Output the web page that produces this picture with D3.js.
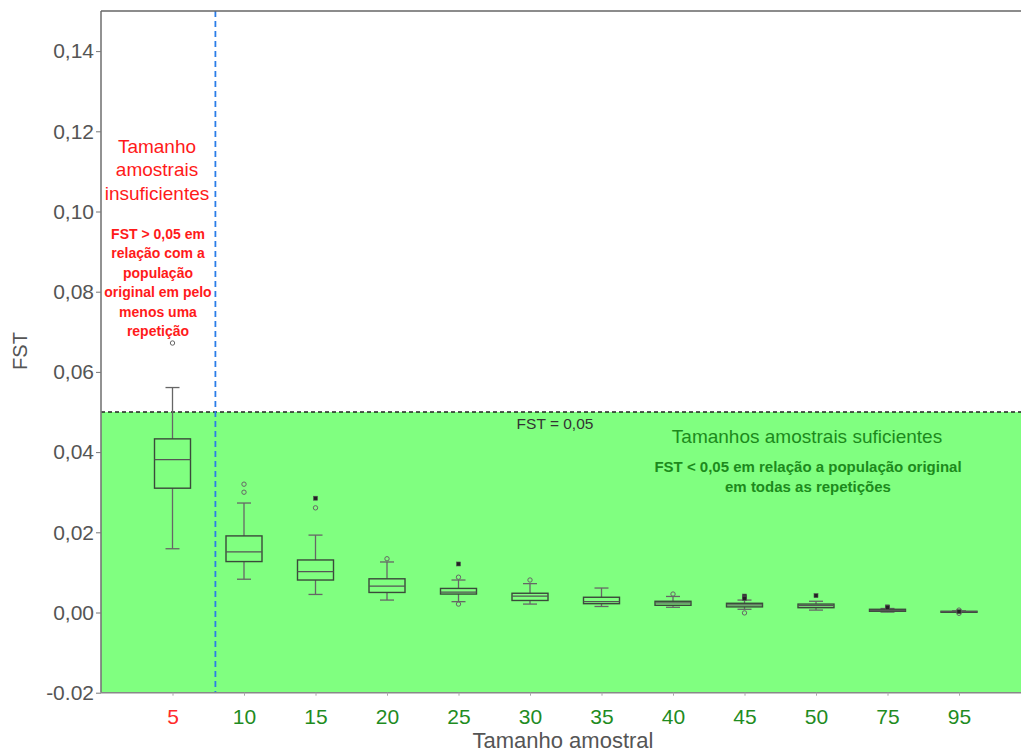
<!DOCTYPE html>
<html>
<head>
<meta charset="utf-8">
<script src="https://cdn.jsdelivr.net/npm/d3@7"></script>
<style>
  html, body { margin: 0; padding: 0; background: #fff; }
  svg { display: block; font-family: "Liberation Sans", Arial, sans-serif; }
</style>
</head>
<body>
<svg id="chart" width="1022" height="753"></svg>
<script>
// Sample sizes (x categories) and FST box-plot summaries for each one
const sizes = ["5", "10", "15", "20", "25", "30", "35", "40", "45", "50", "75", "95"];
const whiskerLow  = [0.0159, 0.0083, 0.0045, 0.0031, 0.0027, 0.0021, 0.0015, 0.0013, 0.0008, 0.0006, 0.0001, 0.0001];
const q1          = [0.0310, 0.0127, 0.0081, 0.0050, 0.0046, 0.0030, 0.0022, 0.0018, 0.0014, 0.0012, 0.0003, 0.0001];
const median      = [0.0381, 0.0151, 0.0102, 0.0066, 0.0051, 0.0041, 0.0027, 0.0024, 0.0019, 0.0017, 0.0005, 0.0002];
const q3          = [0.0433, 0.0191, 0.0131, 0.0084, 0.0060, 0.0048, 0.0038, 0.0028, 0.0023, 0.0021, 0.0008, 0.0003];
const whiskerHigh = [0.0561, 0.0273, 0.0193, 0.0126, 0.0081, 0.0072, 0.0061, 0.0040, 0.0031, 0.0028, 0.0010, 0.0004];
// Outlying repetitions: open circles and filled (extreme) points
const outliersOpen = [[0.0672], [0.0320, 0.0300], [0.0261], [0.0134], [0.0088, 0.0021], [0.0081], [], [0.0046], [-0.0001], [], [], [0.0006, -0.0002]];
const outliersFilled = [[], [], [0.0285], [], [0.0121], [], [], [], [0.0041, 0.0038, 0.0035], [0.0042], [0.0014, 0.0012], [0.0002]];
// Y axis ticks and their labels
const yTicks = [-0.02, 0.00, 0.02, 0.04, 0.06, 0.08, 0.10, 0.12, 0.14];
const yTickLabels = ["-0.02", "0,00", "0,02", "0,04", "0,06", "0,08", "0,10", "0,12", "0,14"];
const threshold = 0.05;

const svg = d3.select("#chart");
const plotLeft = 101, plotRight = 1021, plotTop = 11, plotBottom = 692.7;

const y = d3.scaleLinear().domain([-0.02, 0.15]).range([plotBottom, plotTop]);
const step = 71.5;
const x = d3.scalePoint().domain(sizes).range([plotLeft + step, plotLeft + step + step * (sizes.length - 1)]);
const boxW = 36, capW = 14;

// Region of sufficient sample sizes (below the threshold)
svg.append("rect")
  .attr("x", plotLeft).attr("y", y(threshold))
  .attr("width", plotRight - plotLeft).attr("height", plotBottom - y(threshold))
  .attr("fill", "#80ff80");

// Threshold line
svg.append("line")
  .attr("x1", plotLeft).attr("x2", plotRight)
  .attr("y1", y(threshold)).attr("y2", y(threshold))
  .attr("stroke", "#222").attr("stroke-width", 1.3).attr("stroke-dasharray", "4,3");

// Boxes
const boxes = svg.append("g").selectAll("g").data(sizes).join("g")
  .attr("transform", d => `translate(${x(d)},0)`);
boxes.append("line")
  .attr("y1", (d, i) => y(whiskerHigh[i])).attr("y2", (d, i) => y(q3[i]))
  .attr("stroke", "#666").attr("stroke-width", 1.3);
boxes.append("line")
  .attr("y1", (d, i) => y(q1[i])).attr("y2", (d, i) => y(whiskerLow[i]))
  .attr("stroke", "#666").attr("stroke-width", 1.3);
boxes.append("line")
  .attr("x1", -capW / 2).attr("x2", capW / 2)
  .attr("y1", (d, i) => y(whiskerHigh[i])).attr("y2", (d, i) => y(whiskerHigh[i]))
  .attr("stroke", "#666").attr("stroke-width", 1.3);
boxes.append("line")
  .attr("x1", -capW / 2).attr("x2", capW / 2)
  .attr("y1", (d, i) => y(whiskerLow[i])).attr("y2", (d, i) => y(whiskerLow[i]))
  .attr("stroke", "#666").attr("stroke-width", 1.3);
boxes.append("rect")
  .attr("x", -boxW / 2).attr("width", boxW)
  .attr("y", (d, i) => y(q3[i]))
  .attr("height", (d, i) => Math.max(1, y(q1[i]) - y(q3[i])))
  .attr("fill", "none").attr("stroke", "#3a4a3a").attr("stroke-width", 1.4);
boxes.append("line")
  .attr("x1", -boxW / 2).attr("x2", boxW / 2)
  .attr("y1", (d, i) => y(median[i])).attr("y2", (d, i) => y(median[i]))
  .attr("stroke", "#555").attr("stroke-width", 1.3);
boxes.each(function (d, i) {
  const g = d3.select(this);
  g.selectAll("circle.open").data(outliersOpen[i]).join("circle")
    .attr("class", "open").attr("cx", 0).attr("cy", v => y(v)).attr("r", 2.2)
    .attr("fill", "none").attr("stroke", "#666").attr("stroke-width", 1);
  g.selectAll("rect.filled").data(outliersFilled[i]).join("rect")
    .attr("class", "filled").attr("x", -2).attr("y", v => y(v) - 2)
    .attr("width", 4).attr("height", 4)
    .attr("fill", "#222").attr("stroke", "#555").attr("stroke-width", 0.6);
});

// Boundary between insufficient and sufficient sample sizes
const splitX = x("5") + step * 0.6;
svg.append("line")
  .attr("x1", splitX).attr("x2", splitX).attr("y1", plotTop).attr("y2", plotBottom)
  .attr("stroke", "#2a7de8").attr("stroke-width", 1.8).attr("stroke-dasharray", "6,4");

// Frame: left axis, bottom axis, top border
svg.append("line").attr("x1", plotLeft).attr("x2", plotLeft).attr("y1", plotTop).attr("y2", plotBottom)
  .attr("stroke", "#777").attr("stroke-width", 1.6);
svg.append("line").attr("x1", plotLeft).attr("x2", plotRight).attr("y1", plotBottom).attr("y2", plotBottom)
  .attr("stroke", "#888").attr("stroke-width", 1.6);
svg.append("line").attr("x1", plotLeft).attr("x2", plotRight).attr("y1", plotTop).attr("y2", plotTop)
  .attr("stroke", "#666").attr("stroke-width", 1.4);

// Y axis
const yAxis = d3.axisLeft(y).tickValues(yTicks).tickSize(5).tickPadding(2)
  .tickFormat((d, i) => yTickLabels[i]);
const gy = svg.append("g").attr("transform", `translate(${plotLeft},0)`).call(yAxis);
gy.select(".domain").remove();
gy.selectAll(".tick line").attr("stroke", "#777");
gy.selectAll(".tick text").attr("fill", "#555").attr("font-size", 21)
  .attr("font-family", "Liberation Sans, Arial, sans-serif");

// X axis
const xAxis = d3.axisBottom(x).tickSize(3).tickPadding(13);
const gx = svg.append("g").attr("transform", `translate(0,${plotBottom})`).call(xAxis);
gx.select(".domain").remove();
gx.selectAll(".tick line").attr("stroke", "#aaa");
gx.selectAll(".tick text").attr("font-size", 21)
  .attr("font-family", "Liberation Sans, Arial, sans-serif")
  .attr("fill", d => d === "5" ? "#ff2a2a" : "#1f8c1f");

// Axis titles
svg.append("text").attr("x", 563).attr("y", 748).attr("text-anchor", "middle")
  .attr("font-size", 22).attr("fill", "#555").text("Tamanho amostral");
svg.append("text").attr("transform", "translate(27,351) rotate(-90)")
  .attr("text-anchor", "middle").attr("font-size", 20).attr("fill", "#555").text("FST");

// Annotations: insufficient region
const red = "#ff1a1a";
const redTitle = ["Tamanho", "amostrais", "insuficientes"];
svg.append("g").selectAll("text").data(redTitle).join("text")
  .attr("x", 157).attr("y", (d, i) => 153 + i * 23.3)
  .attr("text-anchor", "middle").attr("font-size", 19).attr("fill", red).text(d => d);
const redNote = ["FST > 0,05 em", "relação com a", "população", "original em pelo", "menos uma", "repetição"];
svg.append("g").selectAll("text").data(redNote).join("text")
  .attr("x", 158).attr("y", (d, i) => 239 + i * 19.4)
  .attr("text-anchor", "middle").attr("font-size", 14).attr("font-weight", "bold")
  .attr("fill", red).text(d => d);

// Annotations: sufficient region
const green = "#1c8a1c";
svg.append("text").attr("x", 555).attr("y", 428.5).attr("text-anchor", "middle")
  .attr("font-size", 15.5).attr("fill", "#333").text("FST = 0,05");
svg.append("text").attr("x", 807).attr("y", 443).attr("text-anchor", "middle")
  .attr("font-size", 19).attr("fill", green).text("Tamanhos amostrais suficientes");
const greenNote = ["FST < 0,05 em relação a população original", "em todas as repetições"];
svg.append("g").selectAll("text").data(greenNote).join("text")
  .attr("x", 808).attr("y", (d, i) => 472 + i * 19.5)
  .attr("text-anchor", "middle").attr("font-size", 15).attr("font-weight", "bold")
  .attr("fill", green).text(d => d);
</script>
</body>
</html>
